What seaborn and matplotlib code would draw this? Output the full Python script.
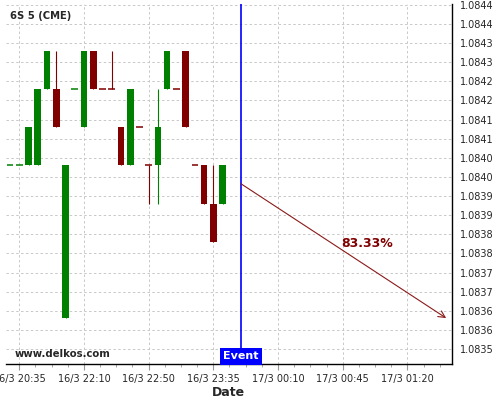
import numpy as np
import matplotlib
matplotlib.use("Agg")
from matplotlib import pyplot as plt
from matplotlib.ticker import MultipleLocator, FixedLocator, FuncFormatter
import matplotlib.transforms as mtransforms
import seaborn as sns
from decimal import Decimal, ROUND_HALF_UP

# Свечи 6S 5 (CME), 5-минутный график
opens = [1.08398, 1.08398, 1.08398, 1.08398, 1.08418, 1.08418, 1.08358, 1.08418,
         1.08408, 1.08428, 1.08418, 1.08418, 1.08408, 1.08398, 1.08408, 1.08398,
         1.08398, 1.08418, 1.08418, 1.08428, 1.08398, 1.08398, 1.08388, 1.08388]
closes = [1.08398, 1.08398, 1.08408, 1.08418, 1.08428, 1.08408, 1.08398, 1.08418,
          1.08428, 1.08418, 1.08418, 1.08418, 1.08398, 1.08418, 1.08408, 1.08398,
          1.08408, 1.08428, 1.08418, 1.08408, 1.08398, 1.08388, 1.08378, 1.08398]
highs = [1.08398, 1.08398, 1.08408, 1.08418, 1.08428, 1.08428, 1.08398, 1.08418,
         1.08428, 1.08428, 1.08418, 1.08428, 1.08408, 1.08418, 1.08408, 1.08398,
         1.08418, 1.08428, 1.08418, 1.08428, 1.08398, 1.08398, 1.08398, 1.08398]
lows = [1.08398, 1.08398, 1.08398, 1.08398, 1.08418, 1.08408, 1.08358, 1.08418,
        1.08408, 1.08418, 1.08418, 1.08418, 1.08398, 1.08398, 1.08408, 1.08388,
        1.08388, 1.08418, 1.08418, 1.08408, 1.08398, 1.08388, 1.08378, 1.08388]
bullish = [True, True, True, True, True, False, True, True,
           True, False, False, False, False, True, False, False,
           True, True, False, False, False, False, False, True]

tick_pos = [1, 8, 15, 22, 29, 36, 43]
tick_labels = ['16/3 20:35', '16/3 22:10', '16/3 22:50', '16/3 23:35',
               '17/3 00:10', '17/3 00:45', '17/3 01:20']

event_idx = 25
arrow_start = (25, 1.083932)
arrow_end = (47.2, 1.083581)
probability = '83.33%'
prob_pos = (38.6, 1.083775)

GREEN = '#008000'
RED = '#800000'

sns.set_style('white')
plt.rcParams['font.family'] = ['DejaVu Sans']

fig = plt.figure(figsize=(5, 4), dpi=100)
ax = fig.add_axes([0.012, 0.09, 0.8914, 0.90])

x = np.arange(len(opens))
colors = [GREEN if b else RED for b in bullish]
w = 0.72

# фитили
ax.vlines(x, lows, highs, colors=colors, linewidth=0.8, zorder=2)
# тела свечей
for i in x:
    o, c = opens[i], closes[i]
    if o == c:
        ax.hlines(o, i - w / 2, i + w / 2, colors=colors[i], linewidth=1.1, zorder=3)
    else:
        ax.bar(i, abs(c - o), bottom=min(o, c), width=w, color=colors[i],
               linewidth=0, zorder=3)

# событие
ax.axvline(event_idx, color='#0000ff', linewidth=1.2, zorder=4)
trans = mtransforms.blended_transform_factory(ax.transData, ax.transAxes)
ax.text(event_idx, 0.021, 'Event', transform=trans, ha='center', va='center',
        color='white', fontsize=8, fontweight='bold', zorder=6,
        bbox=dict(boxstyle='square,pad=0.3', facecolor='#0000ff', edgecolor='none'))

# прогноз
ax.annotate('', xy=arrow_end, xytext=arrow_start,
            arrowprops=dict(arrowstyle='->', color='#8b1a1a', lw=0.8,
                            mutation_scale=12, shrinkA=0, shrinkB=0), zorder=5)
ax.text(*prob_pos, probability, color=RED, fontsize=9, fontweight='bold',
        ha='center', va='center')

ax.text(0.009, 0.968, '6S 5 (CME)', transform=ax.transAxes, fontsize=7.2,
        fontweight='bold', ha='left', va='center')
ax.text(0.02, 0.028, 'www.delkos.com', transform=ax.transAxes, fontsize=7.3,
        fontweight='bold', ha='left', va='center')

ax.set_xlim(-0.44, 47.8)
ax.set_ylim(1.083461, 1.084402)

ax.yaxis.tick_right()
ax.yaxis.set_major_locator(MultipleLocator(0.00005))
ax.yaxis.set_minor_locator(MultipleLocator(0.00001))


def fmt(v, pos):
    d = Decimal('%.6f' % float(v))
    return str(d.quantize(Decimal('0.0001'), rounding=ROUND_HALF_UP))


ax.yaxis.set_major_formatter(FuncFormatter(fmt))
ax.set_xticks(tick_pos)
ax.set_xticklabels(tick_labels)
ax.xaxis.set_minor_locator(FixedLocator(np.arange(tick_pos[0], 48, 1.75)))

ax.tick_params(axis='x', which='major', labelsize=7, length=4, width=0.8,
               color='#999999', pad=3, bottom=True)
ax.tick_params(axis='x', which='minor', length=2, width=0.6, color='#999999', bottom=True)
ax.tick_params(axis='y', which='major', labelsize=7, length=4, width=0.8,
               color='black', pad=2, right=True, left=False)
ax.tick_params(axis='y', which='minor', length=2, width=0.5, color='#999999',
               right=True, left=False, direction='in')

ax.grid(True, which='major', color='#c8c8c8', linestyle=(0, (2.5, 2.5)), linewidth=0.7)
ax.set_axisbelow(True)

sns.despine(ax=ax, left=True, top=True, right=False, bottom=False)
for s in ('right', 'bottom'):
    ax.spines[s].set_color('black')
    ax.spines[s].set_linewidth(1.0)

ax.set_xlabel('Date', fontsize=9, fontweight='bold', labelpad=2)

fig.savefig('out.png', dpi=100)
